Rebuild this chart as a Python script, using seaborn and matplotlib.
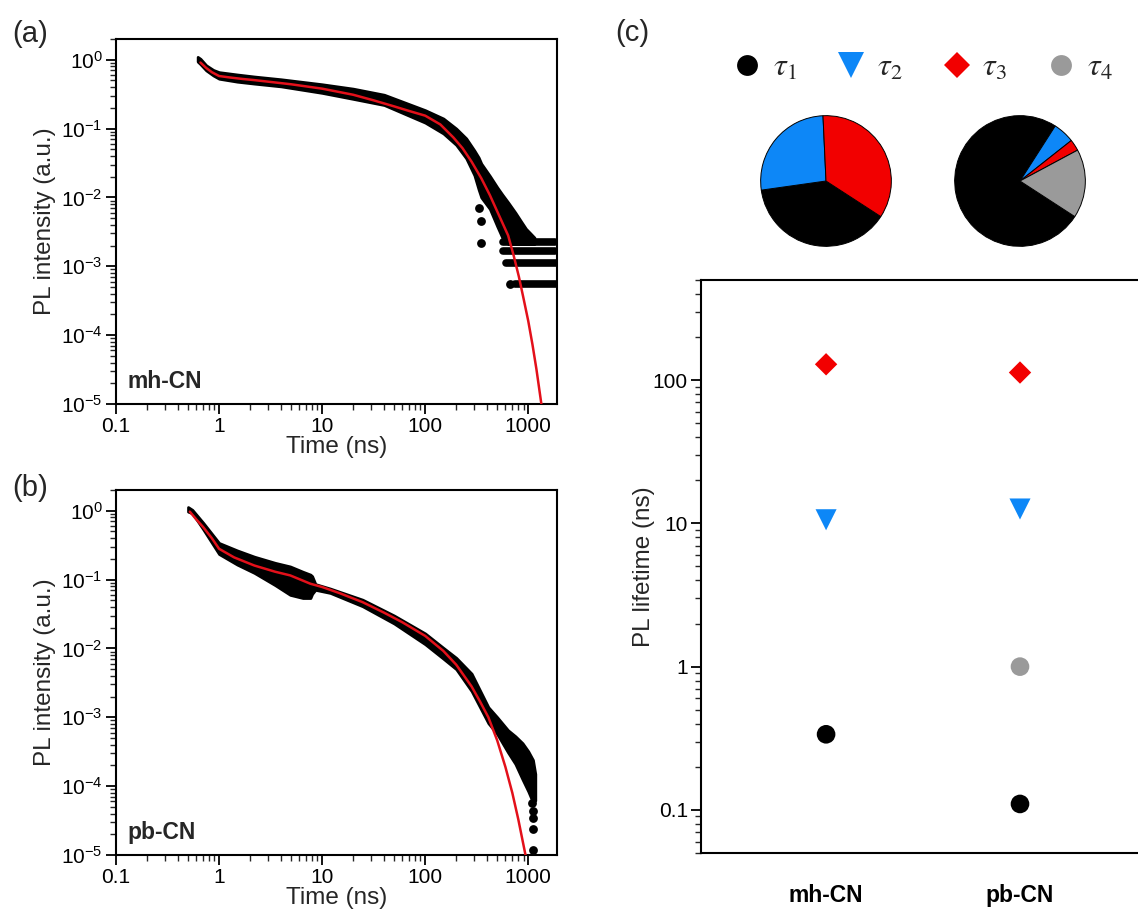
import numpy as np
import pandas as pd
import matplotlib
matplotlib.use("Agg")
import matplotlib.pyplot as plt
import seaborn as sns
from matplotlib.lines import Line2D
from matplotlib.ticker import LogLocator, NullFormatter

# ---------------- data ----------------
# panel (a): mh-CN decay, measured band (upper / lower visible edges)
a_env_t = [0.62, 0.66, 0.75, 0.88, 1.0, 1.5, 2.2, 4, 10, 20, 40, 100, 150, 200, 250, 300, 330, 350,
           424, 500, 560, 640, 750, 850, 950, 1050, 1150]
a_env_up = [1.1, 1.03, 0.83, 0.71, 0.66, 0.61, 0.57, 0.52, 0.44, 0.38, 0.31, 0.185, 0.14, 0.1,
            0.072, 0.048, 0.038, 0.031, 0.0205, 0.014, 0.011, 0.0084, 0.006, 0.0045, 0.0035, 0.003, 0.0026]
a_env_lo = [0.94, 0.86, 0.7, 0.59, 0.53, 0.48, 0.45, 0.41, 0.33, 0.27, 0.22, 0.122, 0.085, 0.058,
            0.037, 0.021, 0.013, 0.01, 0.0068, 0.0038, 0.0026, 0.0021, 0.0021, 0.0021, 0.0021, 0.0021, 0.0021]
# photon-count floor levels (a)
a_lvl = [2.26e-3, 1.67e-3, 1.12e-3, 5.5e-4]
a_lvl_start = [570, 570, 610, 740]
a_lvl_end = [1800, 1800, 2000, 2000]
a_out_t = [335, 347, 347, 670]
a_out_I = [7e-3, 4.6e-3, 2.2e-3, 5.5e-4]
# fit (a)
a_fit_t = [0.66, 0.75, 0.85, 1, 1.3, 1.7, 2.16, 3, 5, 10, 20, 31.6, 50, 70, 100, 140, 188, 230, 282,
           350, 424, 520, 638, 720, 810, 900, 1000, 1100, 1200, 1340]
a_fit_I = [0.91, 0.76, 0.66, 0.58, 0.55, 0.525, 0.507, 0.48, 0.44, 0.38, 0.31, 0.257, 0.21, 0.18,
           0.154, 0.115, 0.074, 0.052, 0.033, 0.019, 0.0108, 0.0055, 2.8e-3, 1.45e-3, 7.1e-4, 3.4e-4,
           1.6e-4, 7.2e-5, 3.2e-5, 1.0e-5]

# panel (b): pb-CN decay
b_env_t = [0.5, 0.55, 0.7, 1.0, 1.5, 2.2, 3.5, 4.9, 6.5, 7.7, 8.0, 8.6, 12, 24.7, 50, 100, 150, 200,
           282, 410, 500, 635, 750, 880, 1000, 1110, 1170]
b_env_up = [1.13, 1.03, 0.67, 0.34, 0.265, 0.215, 0.175, 0.155, 0.13, 0.118, 0.112, 0.086, 0.074, 0.051,
            0.03, 0.0165, 0.0102, 0.0073, 4.3e-3, 1.4e-3, 1.0e-3, 6.5e-4, 5.3e-4, 4.2e-4, 3.2e-4,
            2.4e-4, 1.5e-4]
b_env_lo = [0.97, 0.92, 0.54, 0.235, 0.165, 0.125, 0.083, 0.06, 0.054, 0.054, 0.062, 0.071, 0.064, 0.041,
            0.023, 0.0115, 0.0071, 0.005, 2.4e-3, 8.2e-4, 5.7e-4, 3.1e-4, 2.1e-4, 1.25e-4, 8.4e-5, 5.8e-5, 6.2e-5]
b_out_t = [1090, 1100, 1105, 1110, 1110]
b_out_I = [5.6e-5, 4.4e-5, 3.4e-5, 2.4e-5, 1.2e-5]
b_fit_t = [0.52, 0.6, 0.7, 0.85, 1, 1.4, 2.2, 3.5, 4.9, 7.7, 10, 15, 24.7, 40, 60, 100, 150, 200, 282,
           340, 410, 500, 600, 700, 800, 940]
b_fit_I = [0.97, 0.75, 0.58, 0.40, 0.28, 0.21, 0.16, 0.13, 0.115, 0.087, 0.078, 0.063, 0.047, 0.033,
           0.024, 0.0152, 0.0092, 0.0058, 2.8e-3, 1.7e-3, 1.0e-3, 4.6e-4, 1.9e-4, 8e-5, 3.3e-5, 1.0e-5]

x_ticks = [0.1, 1, 10, 100, 1000]
x_tick_labels = ["0.1", "1", "10", "100", "1000"]

# panel (c): lifetimes and fractions
samples = ["mh-CN", "pb-CN"]
taus = ["τ1", "τ2", "τ3", "τ4"]
tau_labels = [r"$\tau_1$", r"$\tau_2$", r"$\tau_3$", r"$\tau_4$"]
life_mh = [0.337, 10.6, 129.0, np.nan]
life_pb = [0.11, 12.6, 113.0, 1.0]
frac_mh = [38.6, 26.5, 34.9]
frac_pb = [74.9, 5.3, 2.8, 17.0]
c_ticks = [0.1, 1, 10, 100]
c_tick_labels = ["0.1", "1", "10", "100"]

tau_colors = {"τ1": "#000000", "τ2": "#0D87F7", "τ3": "#F20000", "τ4": "#9A9A9A"}
tau_markers = {"τ1": "o", "τ2": "v", "τ3": "D", "τ4": "o"}
tau_sizes = {"τ1": 180, "τ2": 230, "τ3": 130, "τ4": 180}

# ---------------- style ----------------
sns.set_style("ticks")
plt.rcParams["font.family"] = ["Liberation Sans", "DejaVu Sans"]
plt.rcParams["mathtext.fontset"] = "custom"
plt.rcParams["mathtext.rm"] = "Liberation Sans"
plt.rcParams["mathtext.it"] = "Liberation Sans:italic"
plt.rcParams["mathtext.bf"] = "Liberation Sans:bold"

W, H = 1138, 911
fig = plt.figure(figsize=(W / 100, H / 100), dpi=100)


def rect(l, t, r, b):
    return [l / W, 1 - b / H, (r - l) / W, (b - t) / H]


def style_axes(ax):
    for s in ax.spines.values():
        s.set_linewidth(1.5)
        s.set_color("black")
    ax.tick_params(which="major", direction="out", length=7, width=1.3, labelsize=15,
                   colors="black", top=False, right=False, pad=2.5)
    ax.tick_params(which="minor", direction="out", length=4, width=1.0,
                   top=False, right=False)


def decay_panel(ax, et, eu, el, ft, fI, ot, oI, label):
    ax.set_xscale("log")
    ax.set_yscale("log")
    ax.fill_between(et, el, eu, color="black", edgecolor="black", linewidth=2,
                    joinstyle="round", zorder=2)
    sns.scatterplot(x=ot, y=oI, color="black", s=40, linewidth=0, ax=ax, zorder=3)
    sns.lineplot(x=ft, y=fI, color="#E3101A", linewidth=1.8, ax=ax, sort=False,
                 errorbar=None, zorder=4)
    ax.set_xlim(0.1, 1900)
    ax.set_ylim(1e-5, 2)
    ax.set_xticks(x_ticks)
    ax.set_xticklabels(x_tick_labels)
    ax.xaxis.set_minor_locator(LogLocator(base=10, subs=np.arange(2, 10), numticks=100))
    ax.xaxis.set_minor_formatter(NullFormatter())
    ax.yaxis.set_major_locator(LogLocator(base=10, numticks=100))
    ax.yaxis.set_minor_locator(LogLocator(base=10, subs=np.arange(2, 10), numticks=100))
    ax.yaxis.set_minor_formatter(NullFormatter())
    ax.set_xlabel("Time (ns)", fontsize=17.5, labelpad=0)
    ax.set_ylabel("PL intensity (a.u.)", fontsize=17.5, labelpad=4)
    ax.text(0.025, 0.03, label, transform=ax.transAxes, fontsize=16.5,
            fontweight="bold", ha="left", va="bottom")
    style_axes(ax)


ax_a = fig.add_axes(rect(116, 39, 557, 404))
decay_panel(ax_a, a_env_t, a_env_up, a_env_lo, a_fit_t, a_fit_I, a_out_t, a_out_I, "mh-CN")
lc = ax_a.hlines(a_lvl, a_lvl_start, a_lvl_end, color="black", linewidth=5.5, zorder=2)
lc.set_capstyle("round")

ax_b = fig.add_axes(rect(116, 490, 557, 855))
decay_panel(ax_b, b_env_t, b_env_up, b_env_lo, b_fit_t, b_fit_I, b_out_t, b_out_I, "pb-CN")

# ---------------- panel (c) ----------------
rows = []
for s, vals in zip(samples, [life_mh, life_pb]):
    for t, v in zip(taus, vals):
        if not np.isnan(v):
            rows.append({"sample": s, "tau": t, "lifetime": v})
df = pd.DataFrame(rows)

ax_c = fig.add_axes(rect(701, 280, 1339, 853))
sns.scatterplot(data=df, x="sample", y="lifetime", hue="tau", style="tau", size="tau",
                palette=tau_colors, markers=tau_markers, sizes=tau_sizes,
                linewidth=0, legend=False, ax=ax_c, zorder=3)
ax_c.set_yscale("log")
ax_c.set_ylim(0.05, 500)
ax_c.set_xlim(-0.645, 2.645)
ax_c.set_yticks(c_ticks)
ax_c.set_yticklabels(c_tick_labels)
ax_c.yaxis.set_minor_locator(LogLocator(base=10, subs=np.arange(2, 10), numticks=100))
ax_c.yaxis.set_minor_formatter(NullFormatter())
ax_c.set_xlabel("")
ax_c.set_ylabel("PL lifetime (ns)", fontsize=17.5, labelpad=-2)
style_axes(ax_c)
ax_c.tick_params(axis="x", which="both", length=0, pad=22, labelsize=16.5)
for lab in ax_c.get_xticklabels():
    lab.set_fontweight("bold")

# pies
for vals, box in zip([frac_mh, frac_pb], [(760, 115, 892, 247), (954, 115, 1086, 247)]):
    axp = fig.add_axes(rect(*box))
    cols = [tau_colors[t] for t in taus[:len(vals)]]
    axp.pie(vals, colors=cols, startangle=-33, counterclock=False,
            wedgeprops=dict(edgecolor="black", linewidth=0.7), radius=1)
    axp.set_xlim(-1.01, 1.01)
    axp.set_ylim(-1.01, 1.01)
    axp.set_aspect("equal")
    axp.axis("off")

# legend
handles = [Line2D([], [], linestyle="none", marker=tau_markers[t], color=tau_colors[t],
                  markersize=ms, markeredgewidth=0)
           for t, ms in zip(taus, [15, 19, 13.5, 15])]
leg = fig.legend(handles, tau_labels, loc="center", bbox_to_anchor=(922 / W, 1 - 68 / H),
                 ncol=4, frameon=False, fontsize=23, handletextpad=0.3, columnspacing=1.2,
                 handlelength=1.0)
for t in leg.get_texts():
    t.set_math_fontfamily("stix")

# panel letters
fig.text(30 / W, 1 - 34 / H, "(a)", fontsize=21, ha="center", va="center")
fig.text(30 / W, 1 - 488 / H, "(b)", fontsize=21, ha="center", va="center")
fig.text(632 / W, 1 - 33 / H, "(c)", fontsize=21, ha="center", va="center")

fig.savefig("out.png", dpi=100)
